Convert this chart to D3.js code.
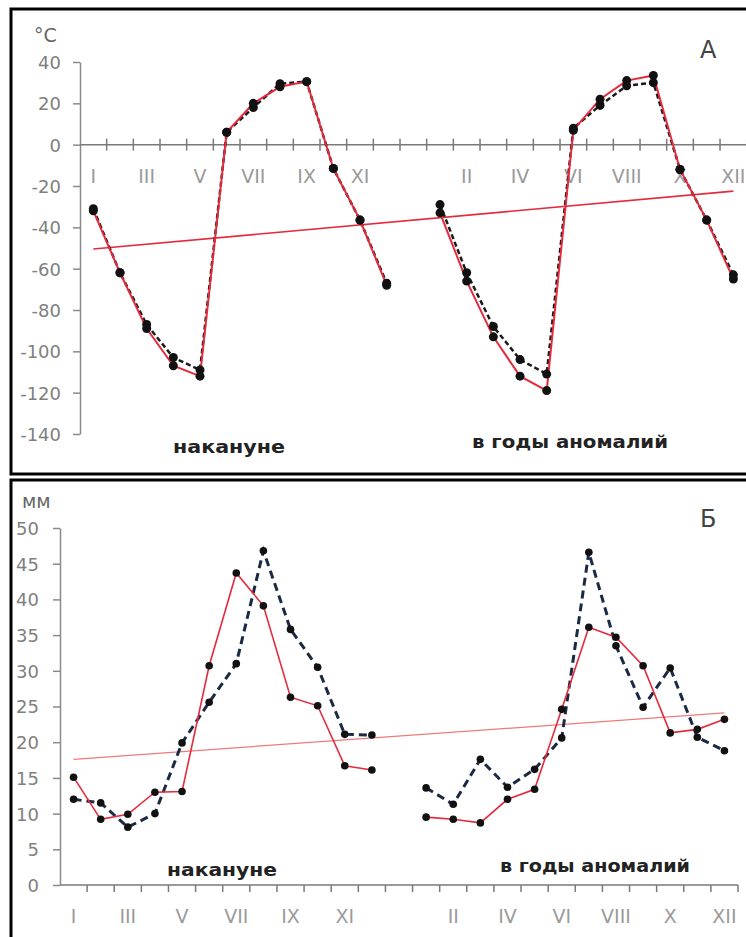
<!DOCTYPE html>
<html>
<head>
<meta charset="utf-8">
<script src="https://cdn.jsdelivr.net/npm/d3@7"></script>
<style>
  body { margin: 0; background: #fff; }
  svg { display: block; }
</style>
</head>
<body>
<div id="chart"></div>
<script>
const W = 746, H = 937;

// months, 25 categories: 12 + gap + 12
const months = ["I","II","III","IV","V","VI","VII","VIII","IX","X","XI","XII"];
const cats = months.concat([""], months);

// A: air temperature, °C
const tempBeforeRed  = [-32, -62, -89, -107, -112, 6, 20, 28, 30.5, -11.5, -36.5, -68];
const tempBeforeDash = [-31, -62, -87, -103, -109, 6, 18, 29.5, 30.5, -11.5, -36.5, -67];
const tempAnomRed    = [-33, -66, -93, -112, -119, 7, 22, 31, 33.5, -12, -36.5, -65];
const tempAnomDash   = [-29, -62, -88, -104, -111, 8, 19, 28.5, 30, -12, -36.5, -63];
const trendA = [-50.5, -22.5];
const ticksA = [40, 20, 0, -20, -40, -60, -80, -100, -120, -140];

// Б: precipitation, mm
const precBeforeRed  = [15.1, 9.2, 9.9, 13.0, 13.1, 30.7, 43.7, 39.1, 26.3, 25.1, 16.7, 16.1];
const precBeforeDash = [12.0, 11.5, 8.1, 10.0, 19.9, 25.6, 31.0, 46.8, 35.8, 30.5, 21.1, 21.0];
const precAnomRed    = [9.5, 9.2, 8.7, 12.0, 13.4, 24.6, 36.1, 34.7, 30.7, 21.3, 21.8, 23.2];
const precAnomDash   = [13.6, 11.3, 17.6, 13.7, 16.2, 20.6, 46.6, 33.5, 24.9, 30.4, 20.7, 18.8];
const trendB = [17.6, 24.1];
const ticksB = [0, 5, 10, 15, 20, 25, 30, 35, 40, 45, 50];

const labels = ["накануне", "в годы аномалий"];

const RED = "#e52a3c", NAVY = "#1b2a44";
const numFont = "'DejaVu Sans', sans-serif";

const svg = d3.select("#chart").append("svg")
    .attr("width", W)
    .attr("height", H);

// frames
svg.append("rect")
   .attr("x", 11).attr("y", 9).attr("width", 760).attr("height", 465)
   .attr("fill", "none").attr("stroke", "#000").attr("stroke-width", 3);
svg.append("rect")
   .attr("x", 11).attr("y", 480).attr("width", 760).attr("height", 480)
   .attr("fill", "none").attr("stroke", "#000").attr("stroke-width", 3);

function joinSeries(a, b) {
    return a.concat([null], b);
}

function panel(o) {
    const g = svg.append("g");
    const x = d3.scaleBand().domain(d3.range(cats.length)).range(o.xr);
    const y = d3.scaleLinear().domain(o.yd).range(o.yr);
    const cx = i => x(i) + x.bandwidth() / 2;

    // y axis
    const ya = g.append("g")
        .attr("transform", `translate(${o.xr[0]},0)`)
        .call(d3.axisLeft(y).tickValues(o.ticks).tickSize(7).tickSizeOuter(0)
              .tickPadding(o.pad).tickFormat(d => String(d)));
    ya.select(".domain").attr("stroke", "#8a8a8a").attr("stroke-width", 1.5);
    ya.selectAll(".tick line").attr("stroke", "#8a8a8a").attr("stroke-width", 1.5);
    ya.selectAll(".tick text")
      .attr("fill", "#808080").attr("font-family", numFont)
      .attr("font-size", o.yFont).attr("dy", "0.36em");

    // x axis
    const y0 = y(0);
    g.append("line")
     .attr("x1", o.xr[0]).attr("x2", o.xEnd)
     .attr("y1", y0).attr("y2", y0)
     .attr("stroke", "#7a7a7a").attr("stroke-width", 1.5);
    g.selectAll(".xt").data(d3.range(1, cats.length + 1).filter(i => x(i) !== undefined || i === cats.length))
     .join("line")
     .attr("x1", i => o.xr[0] + i * x.step()).attr("x2", i => o.xr[0] + i * x.step())
     .attr("y1", y0 + o.tk[0]).attr("y2", y0 + o.tk[1])
     .attr("stroke", "#7a7a7a").attr("stroke-width", 1.5);
    g.selectAll(".xl").data(cats.map((c, i) => ({c, i})).filter(d => d.i % 2 === 0))
     .join("text")
     .attr("x", d => cx(d.i)).attr("y", o.xLabelY)
     .attr("text-anchor", "middle")
     .attr("font-family", numFont).attr("font-size", 19)
     .attr("fill", "#9a9a9a")
     .text(d => d.c);

    // trend
    g.append("line")
     .attr("x1", cx(0)).attr("x2", cx(cats.length - 1))
     .attr("y1", y(o.trend[0])).attr("y2", y(o.trend[1]))
     .attr("stroke", o.trendColor).attr("stroke-width", o.trendW);

    const line = d3.line()
        .defined(d => d != null)
        .x((d, i) => cx(i))
        .y(d => y(d));

    g.append("path").datum(o.dash)
     .attr("d", line).attr("fill", "none")
     .attr("stroke", o.dashColor).attr("stroke-width", o.dashW)
     .attr("stroke-dasharray", o.dashArr);
    g.append("path").datum(o.red)
     .attr("d", line).attr("fill", "none")
     .attr("stroke", RED).attr("stroke-width", o.redW);

    [o.dash, o.red].forEach(s => {
        g.selectAll(null).data(s.map((v, i) => ({v, i})).filter(d => d.v != null))
         .join("circle")
         .attr("cx", d => cx(d.i)).attr("cy", d => y(d.v))
         .attr("r", o.r).attr("fill", "#111");
    });

    // unit and letter
    g.append("text").attr("x", o.unit[0]).attr("y", o.unit[1])
     .attr("font-family", numFont).attr("font-size", 19).attr("fill", "#666")
     .text(o.unitText);
    g.append("text").attr("x", o.letter[0]).attr("y", o.letter[1])
     .attr("font-family", numFont).attr("font-size", 24).attr("fill", "#444")
     .text(o.letterText);

    // period captions
    o.caps.forEach((c, k) => {
        g.append("text").attr("x", c[0]).attr("y", c[1])
         .attr("text-anchor", "middle")
         .attr("font-family", numFont).attr("font-weight", "bold")
         .attr("font-size", 17).attr("fill", "#222")
         .attr("textLength", c[2]).attr("lengthAdjust", "spacingAndGlyphs")
         .text(labels[k]);
    });
}

panel({
    xr: [80, 746.7], xEnd: 746, yd: [-140, 40], yr: [434, 62],
    ticks: ticksA, pad: 12, yFont: 18, tk: [-6, 6], xLabelY: 183,
    red: joinSeries(tempBeforeRed, tempAnomRed),
    dash: joinSeries(tempBeforeDash, tempAnomDash),
    trend: trendA, trendColor: RED, trendW: 1.6,
    dashColor: "#1a1a1a", dashW: 2.5, dashArr: "5,3", redW: 2, r: 4.5,
    unit: [34, 42], unitText: "°C", letter: [700, 58], letterText: "А",
    caps: [[229, 453, 112], [570, 448, 196]]
});

panel({
    xr: [60, 738], xEnd: 738, yd: [0, 50], yr: [885, 528],
    ticks: ticksB, pad: 14, yFont: 18, tk: [0, 7], xLabelY: 923,
    red: joinSeries(precBeforeRed, precAnomRed),
    dash: joinSeries(precBeforeDash, precAnomDash),
    trend: trendB, trendColor: "#f07a7a", trendW: 1.2,
    dashColor: NAVY, dashW: 3, dashArr: "8,5", redW: 1.6, r: 3.8,
    unit: [22, 508], unitText: "мм", letter: [700, 527], letterText: "Б",
    caps: [[222, 876, 110], [595, 872, 190]]
});
</script>
</body>
</html>
